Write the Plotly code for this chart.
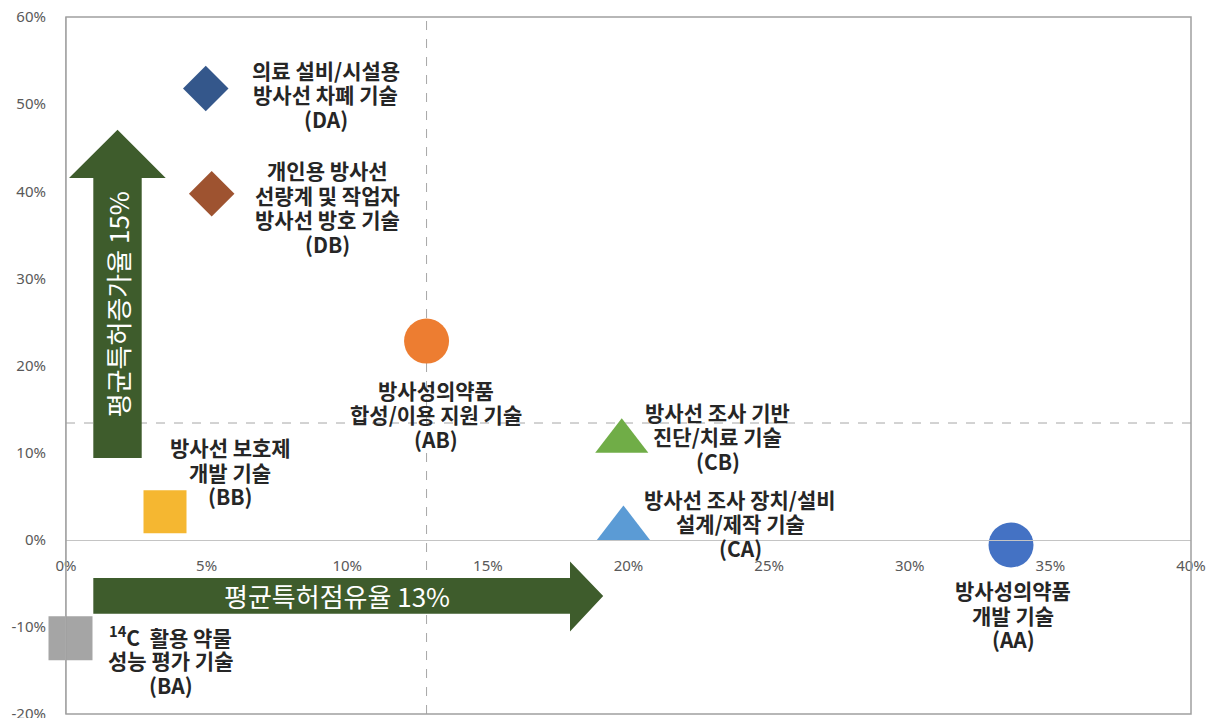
import plotly.graph_objects as go

# ---- data -------------------------------------------------------------
codes = ["DA", "DB", "AB", "CB", "CA", "AA", "BB", "BA"]
names = [
    "의료 설비/시설용<br>방사선 차폐 기술",
    "개인용 방사선<br>선량계 및 작업자<br>방사선 방호 기술",
    "방사성의약품<br>합성/이용 지원 기술",
    "방사선 조사 기반<br>진단/치료 기술",
    "방사선 조사 장치/설비<br>설계/제작 기술",
    "방사성의약품<br>개발 기술",
    "방사선 보호제<br>개발 기술",
    "<sup>14</sup>C  활용 약물<br>성능 평가 기술",
]
# 평균특허점유율 (x, %) and 평균특허증가율 (y, %)
share = [4.97, 5.18, 12.82, 19.76, 19.82, 33.60, 3.52, 0.16]
growth = [51.8, 39.7, 22.8, 11.3, 1.3, -0.6, 3.2, -11.3]

avg_share = 12.82     # vertical reference line
avg_growth = 13.4     # horizontal reference line
share_label = "평균특허점유율 13%"
growth_label = "평균특허증가율 15%"

x_ticks = [0, 5, 10, 15, 20, 25, 30, 35, 40]
y_ticks = [-20, -10, 0, 10, 20, 30, 40, 50, 60]

# ---- styles -----------------------------------------------------------
style = {
    "DA": dict(symbol="diamond", color="#34578B", size=35),
    "DB": dict(symbol="diamond", color="#9E5330", size=35),
    "AB": dict(symbol="circle", color="#ED7D31", size=45),
    "CB": dict(symbol="triangle-up", color="#70AD47", size=46),
    "CA": dict(symbol="triangle-up", color="#5B9BD5", size=46),
    "AA": dict(symbol="circle", color="#4472C4", size=45),
    "BB": dict(symbol="square", color="#F5B731", size=43),
    "BA": dict(symbol="square", color="#A5A5A5", size=44),
}
# label block centre relative to each marker, in pixels (right / up)
label_shift = {
    "DA": (120, -6), "DB": (116, -13), "AB": (9, -73), "CB": (96, 5),
    "CA": (117, 5), "AA": (2, -70), "BB": (65, 40), "BA": (100, -22),
}
LINE_GAP = 24.5

ARROW_GREEN = "#3E5C2C"
LABEL_FONT = dict(family="Noto Sans CJK KR", size=21, color="#262626", weight="bold")
TICK_FONT = dict(family="Noto Sans", size=15, color="#595959")
ARROW_FONT = dict(family="Noto Sans CJK KR", size=26, color="white")

fig = go.Figure()

fig.add_trace(go.Scatter(
    x=share, y=growth, mode="markers", cliponaxis=False, hoverinfo="skip",
    marker=dict(
        symbol=[style[c]["symbol"] for c in codes],
        color=[style[c]["color"] for c in codes],
        size=[style[c]["size"] for c in codes],
        opacity=1,
        line=dict(width=0),
    ),
    showlegend=False,
))

annotations = []
for c, name, x, y in zip(codes, names, share, growth):
    dx, dy = label_shift[c]
    lines = name.split("<br>") + [f"({c})"]
    n = len(lines)
    for i, line in enumerate(lines):
        annotations.append(dict(
            x=x, y=y, xref="x", yref="y", text=line,
            showarrow=False, xanchor="center", yanchor="middle", align="center",
            xshift=dx, yshift=dy + ((n - 1) / 2 - i) * LINE_GAP, font=LABEL_FONT,
            borderpad=0,
        ))

# big arrows: geometry in axis units
v_body = (0.971, 2.692)          # x range of vertical shaft
v_bottom, v_head_base, v_tip = 9.38, 41.52, 47.06
v_head = (0.107, 3.545)
h_body = (-8.49, -4.40)          # y range of horizontal shaft
h_left, h_head_base, h_tip = 0.971, 17.92, 19.10
h_head = (-10.52, -2.49)

v_mid = (v_body[0] + v_body[1]) / 2
h_mid = (h_body[0] + h_body[1]) / 2

v_path = (f"M {v_body[0]},{v_bottom} L {v_body[1]},{v_bottom} L {v_body[1]},{v_head_base} "
          f"L {v_head[1]},{v_head_base} L {v_mid},{v_tip} L {v_head[0]},{v_head_base} "
          f"L {v_body[0]},{v_head_base} Z")
h_path = (f"M {h_left},{h_body[1]} L {h_head_base},{h_body[1]} L {h_head_base},{h_head[1]} "
          f"L {h_tip},{h_mid} L {h_head_base},{h_head[0]} L {h_head_base},{h_body[0]} "
          f"L {h_left},{h_body[0]} Z")

shapes = [
    dict(type="line", xref="x", yref="y", x0=avg_share, x1=avg_share, y0=-20, y1=60,
         line=dict(color="#A6A6A6", width=1, dash="dash"), layer="below"),
    dict(type="line", xref="x", yref="y", x0=0, x1=40, y0=avg_growth, y1=avg_growth,
         line=dict(color="#A6A6A6", width=1, dash="dash"), layer="below"),
    dict(type="path", xref="x", yref="y", path=v_path, fillcolor=ARROW_GREEN,
         line=dict(width=0), layer="below"),
    dict(type="path", xref="x", yref="y", path=h_path, fillcolor=ARROW_GREEN,
         line=dict(width=0), layer="below"),
    dict(type="rect", xref="paper", yref="paper", x0=0, x1=1, y0=0, y1=1,
         line=dict(color="#A0A0A0", width=1.5), layer="above"),
]

annotations.append(dict(
    x=v_mid, y=26.97, xref="x", yref="y", text=growth_label, textangle=-90,
    showarrow=False, font=ARROW_FONT,
))
annotations.append(dict(
    x=9.65, y=h_mid, xref="x", yref="y", text=share_label,
    showarrow=False, font=ARROW_FONT,
))

fig.update_layout(
    width=1213, height=718,
    margin=dict(l=66, r=22, t=17, b=4),
    paper_bgcolor="white", plot_bgcolor="white",
    xaxis=dict(
        range=[0, 40], tickvals=x_ticks, ticktext=[f"{v}%" for v in x_ticks],
        anchor="free", position=0.25, automargin=False,
        showline=True, linecolor="#C4C4C4", linewidth=1,
        showgrid=False, zeroline=False,
        ticks="outside", ticklen=12, tickcolor="rgba(0,0,0,0)",
        tickfont=TICK_FONT, ticklabeloverflow="allow",
    ),
    yaxis=dict(
        range=[-20, 60], tickvals=y_ticks, ticktext=[f"{v}%" for v in y_ticks],
        automargin=False,
        showline=True, linecolor="#C4C4C4", linewidth=1,
        showgrid=False, zeroline=False,
        ticks="outside", ticklen=16, tickcolor="rgba(0,0,0,0)",
        tickfont=TICK_FONT, ticklabeloverflow="allow",
    ),
    shapes=shapes,
    annotations=annotations,
)

fig.write_html("out.html")
